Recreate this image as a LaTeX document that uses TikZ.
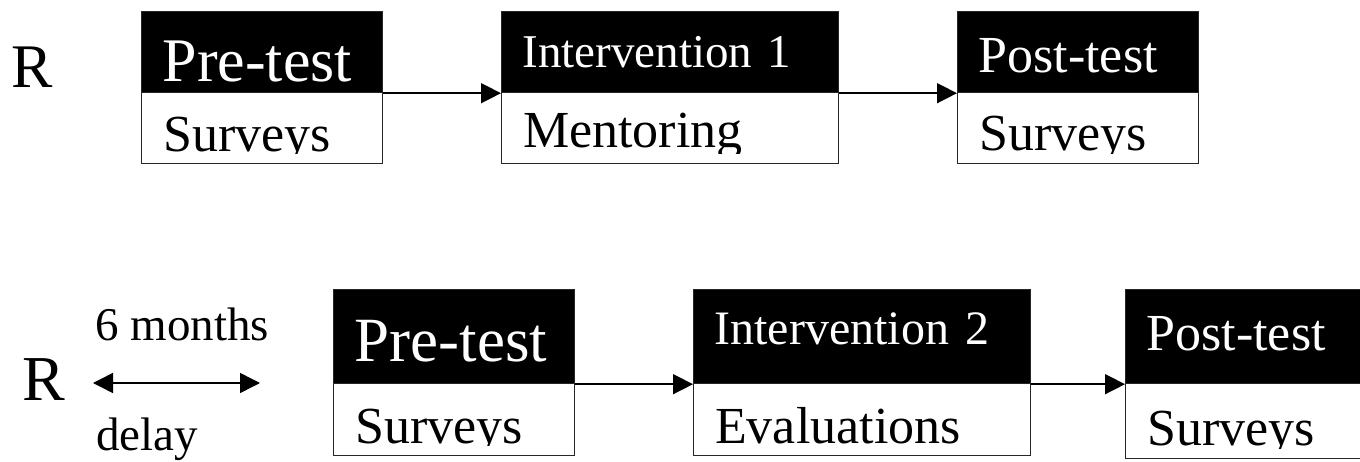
\documentclass[tikz,border=0pt]{standalone}
\usepackage{fontspec}
\setmainfont{Liberation Serif}
\usetikzlibrary{arrows.meta}

\begin{document}
\begin{tikzpicture}[x=1pt, y=-1pt,
    head/.style = {draw=black!85, line width=1.2pt, fill=black, text=white, anchor=north west,
      inner xsep=21pt, inner ysep=0pt, align=left},
    body/.style 2 args = {draw=black!85, line width=1.2pt, fill=white, anchor=north west, inner sep=0pt,
      path picture={
        \clip (path picture bounding box.north west) rectangle ([yshift=10pt]path picture bounding box.south east);
        \node[anchor=base west, inner sep=0pt, minimum width=0pt, minimum height=0pt, font=\fontsize{52}{60}\selectfont]
          at ([xshift=21pt, yshift=-#2pt]path picture bounding box.north west) {#1};}},
    link/.style = {-{Triangle[length=20pt, width=20pt]}, line width=1.5pt},
    label/.style = {anchor=base west, inner sep=0pt}]
    \path[use as bounding box, clip] (0,0) rectangle (1360,462);
    % first group
    \node[label, font=\fontsize{62}{70}\selectfont] (r1) at (11,88) {R};
    \node[head, text width=199pt, text height=70pt, text depth=11pt, font=\fontsize{62}{70}\selectfont] (pre1) at (141,11) {Pre-test};
    \node[body={Surveys}{59}, minimum width=241pt, minimum height=71pt] (sur1) at (141,92) {};
    \node[head, text width=295pt, text height=56pt, text depth=25pt, font=\fontsize{47}{54}\selectfont] (int1) at (501,11) {Intervention 1};
    \node[body={Mentoring}{55}, minimum width=337pt, minimum height=71pt] (men1) at (501,92) {};
    \node[head, text width=199pt, text height=61pt, text depth=20pt, font=\fontsize{52}{60}\selectfont] (post1) at (957,11) {Post-test};
    \node[body={Surveys}{58}, minimum width=241pt, minimum height=71pt] (sur2) at (957,92) {};
    \draw[link] (pre1.south east) -- (int1.south west);
    \draw[link] (int1.south east) -- (post1.south west);
    % second group, after the delay
    \node[label, font=\fontsize{64}{72}\selectfont] (r2) at (22,400) {R};
    \node[label, font=\fontsize{47}{54}\selectfont] (months) at (95,341) {6 months};
    \node[label, font=\fontsize{47}{54}\selectfont] (delay) at (96,450) {delay};
    \coordinate (d1) at (93,383);
    \coordinate (d2) at (260,383);
    \draw[{Triangle[length=20pt, width=20pt]}-{Triangle[length=20pt, width=20pt]}, line width=1.5pt] (d1) -- (d2);
    \node[head, text width=199pt, text height=72pt, text depth=22pt, font=\fontsize{63}{70}\selectfont] (pre2) at (333,289) {Pre-test};
    \node[body={Surveys}{60}, minimum width=241pt, minimum height=72pt] (sur3) at (333,383) {};
    \node[head, text width=295pt, text height=55pt, text depth=39pt, font=\fontsize{48}{56}\selectfont] (int2) at (693,289) {Intervention 2};
    \node[body={Evaluations}{60}, minimum width=337pt, minimum height=72pt] (eva) at (693,383) {};
    \node[head, text width=208pt, text height=61pt, text depth=33pt, font=\fontsize{52}{60}\selectfont] (post2) at (1125,289) {Post-test};
    \node[body={Surveys}{62}, minimum width=250pt, minimum height=75pt] (sur4) at (1125,383) {};
    \draw[link] (pre2.south east) -- (int2.south west);
    \draw[link] (int2.south east) -- (post2.south west);
\end{tikzpicture}
\end{document}
